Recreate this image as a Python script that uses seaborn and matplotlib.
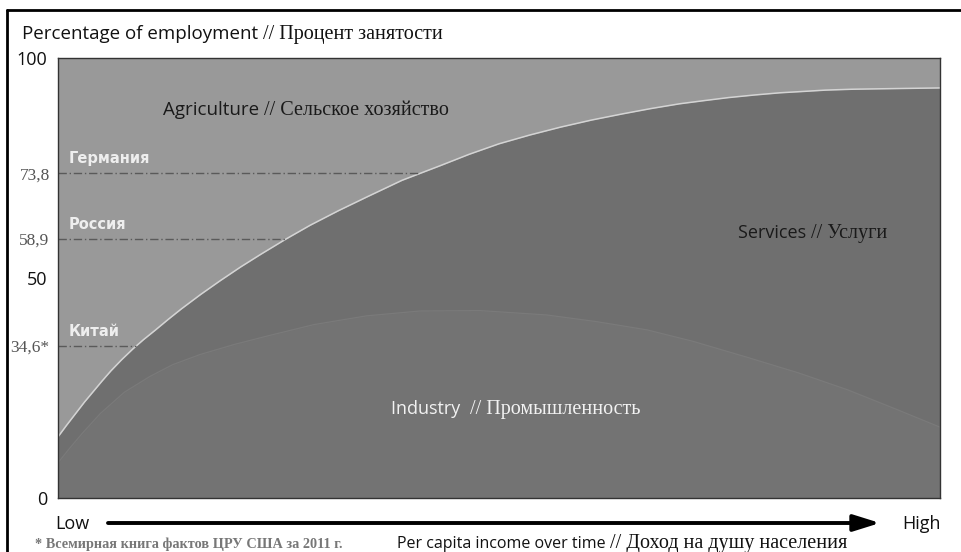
import numpy as np
import seaborn as sns
import matplotlib.pyplot as plt
from matplotlib.lines import Line2D

# income axis is schematic: 0 = low, 100 = high
non_agri_x = [0, 1, 2, 3, 4, 5, 6, 7.2, 8.5, 9.7, 11, 12.5, 14, 16.2, 18.4, 20.7, 23, 25.8, 28.6, 31.8, 35,
              39, 43.3, 46.6, 50, 53.5, 57, 60.5, 64, 67.2, 70.5, 73.2, 76, 79, 81.9, 84.5, 87, 90, 93.2, 96.6, 100]
non_agri_y = [13.9, 16.6, 19.2, 21.8, 24.2, 26.6, 28.9, 31.4, 33.9, 36, 38.1, 40.6, 43, 46.3, 49.4, 52.5, 55.4,
              58.8, 62, 65.3, 68.4, 72.2, 75.5, 78.1, 80.5, 82.5, 84.3, 85.9, 87.3, 88.5, 89.6, 90.3, 91, 91.6,
              92.1, 92.4, 92.7, 92.9, 93, 93.1, 93.2]

industry_x = [0, 1.4, 2.8, 4.8, 7.5, 10.4, 13, 16.1, 20, 23.7, 29, 35, 41, 47.8, 55.4, 61, 66.8, 72, 78.1, 84,
              89.5, 95, 100]
industry_y = [8, 11.5, 14.8, 19.2, 24, 27.6, 30.3, 32.6, 34.9, 36.8, 39.4, 41.4, 42.5, 42.6, 41.6, 40.1, 38.2,
              35.6, 32, 28.4, 24.6, 20.2, 16.1]

countries = ['Германия', 'Россия', 'Китай']
country_vals = [73.8, 58.9, 34.6]

ytick_vals = [0, 34.6, 50, 58.9, 73.8, 100]
ytick_labels = ['0', '34,6*', '50', '58,9', '73,8', '100']

AGRI = '#999999'
SERV = '#6f6f6f'
IND = '#737373'

sns.set_style('white')
plt.rcParams['font.family'] = ['Open Sans', 'DejaVu Sans']

W, H = 961, 552
fig = plt.figure(figsize=(W / 100, H / 100), dpi=100)
ax = fig.add_axes([58 / W, 1 - 498 / H, (940 - 58) / W, (498 - 58) / H])
ax.set_facecolor(AGRI)

ax.fill_between(non_agri_x, 0, non_agri_y, color=SERV, lw=0)
ax.fill_between(industry_x, 0, industry_y, color=IND, lw=0)
sns.lineplot(x=non_agri_x, y=non_agri_y, ax=ax, color='#d4d4d4', lw=1.1)
sns.lineplot(x=industry_x, y=industry_y, ax=ax, color='#7a7a7a', lw=0.9)

# dash-dot reference lines from the axis to the agriculture boundary
for name, v in zip(countries, country_vals):
    xe = np.interp(v, non_agri_y, non_agri_x)
    ax.plot([0, xe], [v, v], color='#5a5a5a', lw=1, dashes=(6, 2, 1, 2))
    ax.annotate(name, xy=(0, v), xytext=(8, 5), textcoords='offset points',
                color='#eeeeee', fontsize=10.5, fontweight='bold',
                family='DejaVu Sans', va='bottom')

ax.set_xlim(0, 100)
ax.set_ylim(0, 100)
ax.set_xticks([])
ax.set_yticks(ytick_vals)
ax.set_yticklabels(ytick_labels)
ax.tick_params(axis='y', length=4.5, width=1.6, color='black', pad=1.5)
for v, lab, tk in zip(ytick_vals, ax.get_yticklabels(), ax.yaxis.get_major_ticks()):
    if v in (0, 50, 100):
        lab.set_fontsize(13)
        lab.set_color('#111111')
        tk.tick1line.set_visible(False)
        tk.set_pad(3)
    else:
        lab.set_family('Liberation Serif')
        lab.set_fontsize(12.5)
        lab.set_color('#555555')
for sp in ax.spines.values():
    sp.set_color('#333333')
    sp.set_linewidth(1)

r = fig.canvas.get_renderer()


def mixed(x, y, parts):
    cur = x
    for s, kw in parts:
        t = fig.text(cur / W, 1 - y / H, s, va='baseline', **kw)
        cur = t.get_window_extent(r).x1


sans = dict(family='Open Sans')
serif = dict(family='Liberation Serif')

mixed(22, 39, [('Percentage of employment ', dict(sans, fontsize=13.5, color='#111111')),
               ('// Процент занятости', dict(serif, fontsize=14.5, color='#111111'))])
mixed(163, 115, [('Agriculture', dict(sans, fontsize=13.5, color='#1a1a1a')),
                 (' // Сельское хозяйство', dict(serif, fontsize=14.5, color='#1a1a1a'))])
mixed(738, 238, [('Services ', dict(sans, fontsize=13, color='#1a1a1a')),
                 ('// Услуги', dict(serif, fontsize=14.5, color='#1a1a1a'))])
mixed(391, 414, [('Industry  ', dict(sans, fontsize=13, color='#f2f2f2')),
                 ('// Промышленность', dict(serif, fontsize=14.5, color='#f2f2f2'))])
mixed(55, 529, [('Low', dict(sans, fontsize=13, color='#111111'))])
mixed(902, 529, [('High', dict(sans, fontsize=13, color='#111111'))])
mixed(35, 548, [('* Всемирная книга фактов ЦРУ США за 2011 г.',
                 dict(serif, fontsize=10.3, fontweight='bold', color='#777777'))])
mixed(397, 548, [('Per capita income over time ', dict(sans, fontsize=11.5, color='#111111')),
                 ('// Доход на душу населения', dict(serif, fontsize=14.5, color='#111111'))])

# income arrow
ax.annotate('', xy=(880, H - 523), xytext=(108, H - 523),
            xycoords='figure pixels', textcoords='figure pixels',
            arrowprops=dict(arrowstyle='-|>,head_length=1.6,head_width=0.5',
                            lw=2.8, color='black', shrinkA=0, shrinkB=0),
            annotation_clip=False)

# outer frame (cropped at right and bottom)
fig.add_artist(Line2D([7 / W, 1], [1 - 10 / H, 1 - 10 / H], color='black', lw=2))
fig.add_artist(Line2D([7 / W, 7 / W], [0, 1 - 10 / H], color='black', lw=2))

fig.savefig('out.png', dpi=100)
